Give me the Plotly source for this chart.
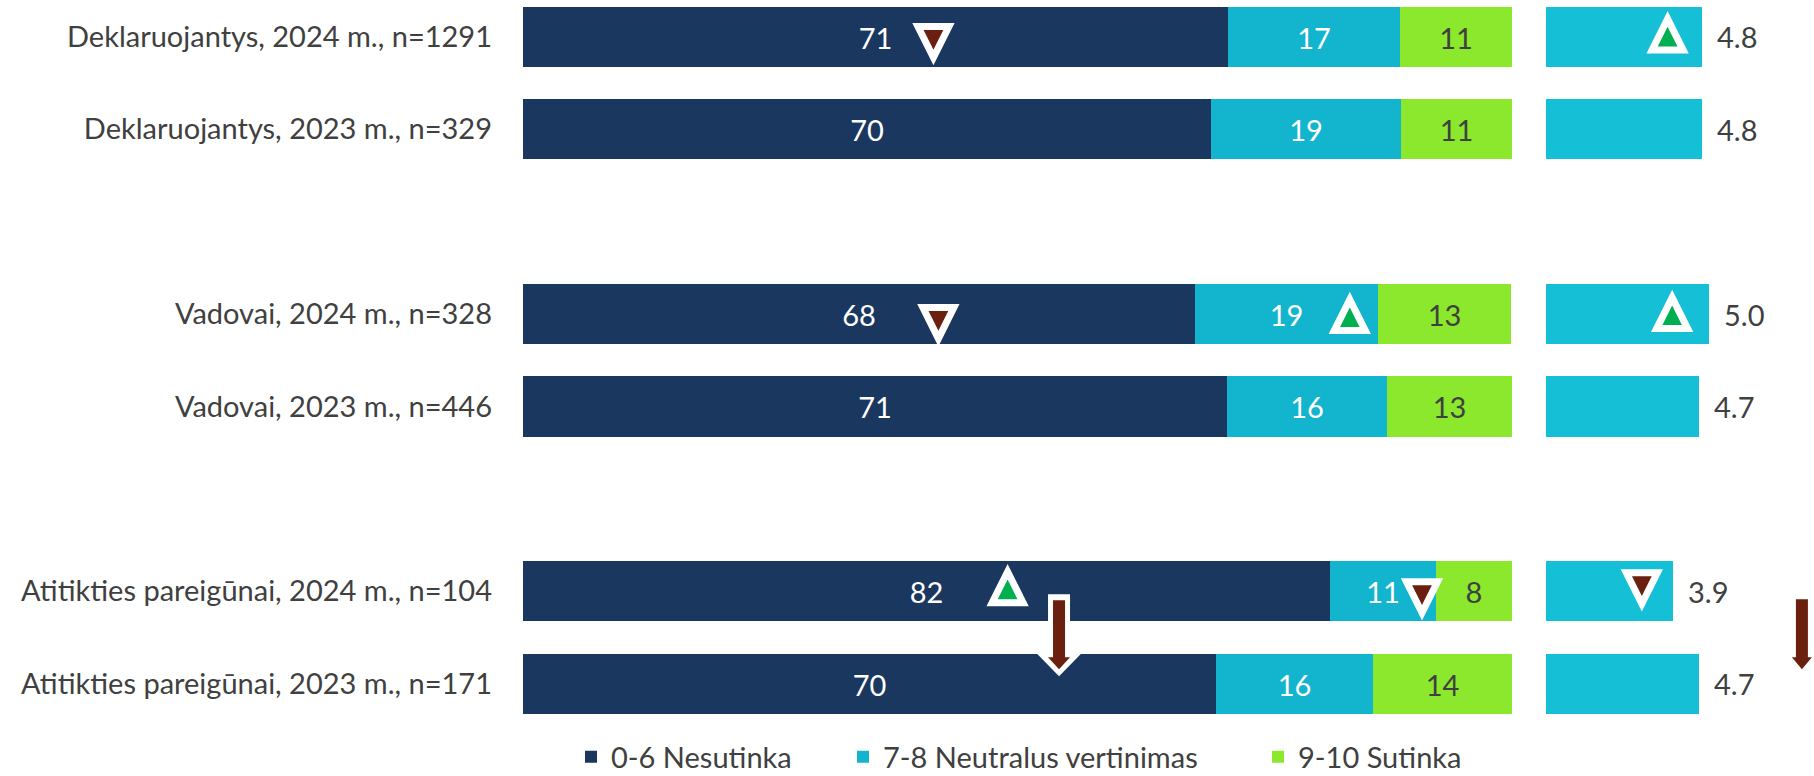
import plotly.graph_objects as go

# ---------------- data ----------------
row_labels = [
    "Deklaruojantys, 2024 m., n=1291",
    "Deklaruojantys, 2023 m., n=329",
    "Vadovai, 2024 m., n=328",
    "Vadovai, 2023 m., n=446",
    "Atitikties pareigūnai, 2024 m., n=104",
    "Atitikties pareigūnai, 2023 m., n=171",
]
row_pos = [0, 1, 3, 4, 6, 7]          # slots (blank slot between groups)

disagree = [71.3, 69.6, 67.9, 71.2, 81.6, 70.1]   # 0-6 Nesutinka
neutral = [17.4, 19.2, 18.6, 16.2, 10.7, 15.8]    # 7-8 Neutralus vertinimas
agree = [11.3, 11.2, 13.4, 12.6, 7.7, 14.1]       # 9-10 Sutinka
mean_score = [4.8, 4.8, 5.0, 4.7, 3.9, 4.7]

series_names = ["0-6 Nesutinka", "7-8 Neutralus vertinimas", "9-10 Sutinka"]

# significance markers: (axis, x value, row index, direction)
sig_markers = [
    ("x", 41.5, 0, "down"),
    ("x2", 3.73, 0, "up"),
    ("x", 42.0, 2, "down"),
    ("x", 83.6, 2, "up"),
    ("x2", 3.87, 2, "up"),
    ("x", 49.0, 4, "up"),
    ("x", 90.9, 4, "down"),
    ("x2", 2.94, 4, "down"),
]
sig_dy = [5, -2.5, 9, 1, -1, -4, 6, -3]   # pixel nudges (screen down)

# change arrows: (axis, x value, row index, outlined)
change_arrows = [("x", 54.2, 4, True), ("x2", 7.85, 4, False)]

# ---------------- style ----------------
W, H = 1814, 776
FONT = "Lato"
FS = 29
TXT = "#404040"
C_DIS = "#1A3760"
C_NEU = "#12B4CE"
C_AGR = "#8BE82C"
C_MEAN = "#15C0D7"
C_UP = "#00B050"
C_DOWN = "#6B1F0F"

fig = go.Figure()

colors = [C_DIS, C_NEU, C_AGR]
txtcol = ["white", "white", TXT]
legends = ["legend", "legend2", "legend3"]
for vals, name, col, tc, lg in zip([disagree, neutral, agree], series_names, colors, txtcol, legends):
    fig.add_trace(go.Bar(
        y=row_pos, x=vals, name=name, orientation="h",
        marker=dict(color=col, line=dict(width=0)),
        width=0.65,
        texttemplate="%{x:.0f}", textposition="inside", insidetextanchor="middle",
        textangle=0, constraintext="none",
        textfont=dict(family=FONT, size=FS, color=tc),
        xaxis="x", yaxis="y", legend=lg, hoverinfo="skip",
    ))

fig.add_trace(go.Bar(
    y=row_pos, x=mean_score, orientation="h", showlegend=False,
    marker=dict(color=C_MEAN, line=dict(width=0)), width=0.65,
    xaxis="x2", yaxis="y", hoverinfo="skip",
))

for yv, m in zip(row_pos, mean_score):
    fig.add_annotation(x=m, y=yv, xref="x2", yref="y", text=f"{m:.1f}",
                       showarrow=False, xanchor="left", yanchor="middle", xshift=13,
                       font=dict(family=FONT, size=FS, color=TXT))

shapes = []
for (ax, xv, ri, d), dy in zip(sig_markers, sig_dy):
    hw, hh = 15.5, 15.5
    c = -dy  # pixel coords are positive-up
    if d == "down":
        path = f"M{-hw},{c+hh} L{hw},{c+hh} L0,{c-hh} Z"
        fill = C_DOWN
    else:
        path = f"M{-hw},{c-hh} L{hw},{c-hh} L0,{c+hh} Z"
        fill = C_UP
    shapes.append(dict(type="path", xref=ax, yref="y", xsizemode="pixel", ysizemode="pixel",
                       xanchor=xv, yanchor=row_pos[ri], path=path,
                       fillcolor=fill, line=dict(color="white", width=7), layer="above"))

for ax, xv, ri, outlined in change_arrows:
    # screen-down pixel offsets relative to the row centre, converted to positive-up
    if outlined:
        p = [(-11, 3), (11, 3), (11, 61), (23.5, 61), (0, 85), (-23.5, 61), (-11, 61)]
        shapes.append(dict(type="path", xref=ax, yref="y", xsizemode="pixel", ysizemode="pixel",
                           xanchor=xv, yanchor=row_pos[ri],
                           path="M" + " L".join(f"{a},{-b}" for a, b in p) + " Z",
                           fillcolor="white", line=dict(width=0), layer="above"))
        p = [(-6, 9), (6, 9), (6, 66), (11, 66), (0, 78), (-11, 66), (-6, 66)]
    else:
        p = [(-6, 8), (6, 8), (6, 66), (10, 66), (0, 78), (-10, 66), (-6, 66)]
    shapes.append(dict(type="path", xref=ax, yref="y", xsizemode="pixel", ysizemode="pixel",
                       xanchor=xv, yanchor=row_pos[ri],
                       path="M" + " L".join(f"{a},{-b}" for a, b in p) + " Z",
                       fillcolor=C_DOWN, line=dict(width=0), layer="above"))

leg_common = dict(orientation="h", yanchor="middle", y=1 - 757 / H, xanchor="left",
                  bgcolor="rgba(0,0,0,0)", borderwidth=0,
                  font=dict(family=FONT, size=FS, color=TXT))

fig.update_layout(
    width=W, height=H,
    margin=dict(l=0, r=0, t=0, b=0, autoexpand=False),
    paper_bgcolor="white", plot_bgcolor="white",
    barmode="stack", bargap=0,
    showlegend=True,
    legend=dict(x=571 / W, **leg_common),
    legend2=dict(x=843 / W, **leg_common),
    legend3=dict(x=1258 / W, **leg_common),
    xaxis=dict(domain=[523 / W, 1512 / W], range=[0, 100], visible=False, fixedrange=True),
    xaxis2=dict(domain=[1546 / W, 1.0], range=[0, 268 / 32.6], visible=False, anchor="y"),
    yaxis=dict(domain=[0, 1], range=[8.0, -0.4], tickvals=row_pos, ticktext=row_labels,
               showgrid=False, zeroline=False, showline=False, ticks="",
               ticklabelstandoff=30, tickfont=dict(family=FONT, size=FS, color=TXT),
               anchor="x"),
    shapes=shapes,
    font=dict(family=FONT, color=TXT),
)

fig.write_html("out.html", config={"displayModeBar": False},
               post_script="document.body.style.margin='0';document.body.style.overflow='hidden';")
